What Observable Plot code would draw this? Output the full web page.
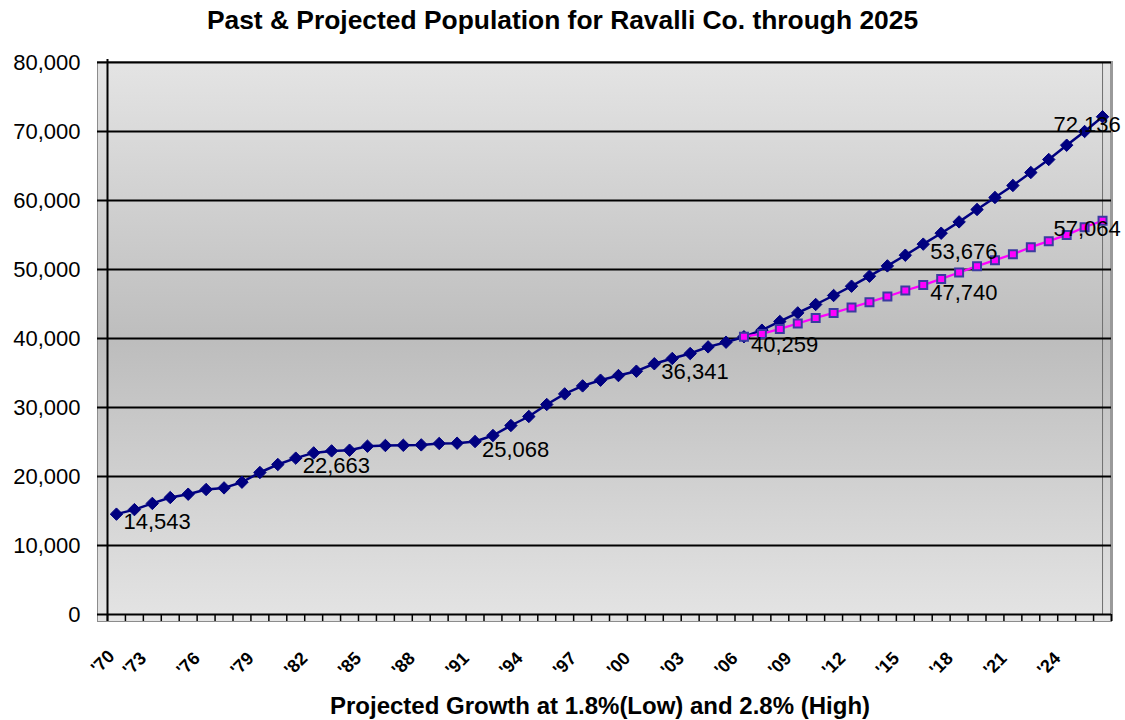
<!DOCTYPE html>
<html>
<head>
<meta charset="utf-8">
<script src="https://cdn.jsdelivr.net/npm/d3@7"></script>
<script src="https://cdn.jsdelivr.net/npm/@observablehq/plot@0.6"></script>
<style>
  html, body { margin: 0; padding: 0; background: #fff; overflow: hidden; }
  #wrap { position: relative; width: 1125px; height: 720px; font-family: "Liberation Sans", Arial, sans-serif; }
  #title { position: absolute; left: 0; top: 5px; width: 1125px; text-align: center; font-weight: bold; font-size: 26.4px; color: #000; }
  #xtitle { position: absolute; left: 0; top: 692px; width: 1125px; padding-left: 75px; box-sizing: border-box; text-align: center; font-weight: bold; font-size: 24px; color: #000; }
  #chart { position: absolute; left: 0; top: 42px; }
</style>
</head>
<body>
<div id="wrap">
  <div id="title">Past &amp; Projected Population for Ravalli Co. through 2025</div>
  <div id="chart"></div>
  <div id="xtitle">Projected Growth at 1.8%(Low) and 2.8% (High)</div>
</div>
<script>
// Categories
const years = d3.range(1970, 2026);
const lowYears = d3.range(2005, 2026);

// High series (2.8%) including past population 1970-2025
const highValues = [
  14543, 15200, 16100, 16950, 17435, 18116, 18348, 19174, 20580, 21739,
  22663, 23420, 23710, 23812, 24391, 24493, 24520, 24580, 24783, 24826,
  25068, 25942, 27391, 28696, 30435, 31971, 33130, 33957, 34630, 35261,
  36341, 37101, 37826, 38783, 39464, 40259, 41203, 42464, 43710, 44928,
  46232, 47580, 49029, 50522, 52072, 53676, 55261, 56899, 58696, 60435,
  62174, 64058, 65942, 68014, 70000, 72136
];

// Low series (1.8%) projection 2005-2025
const lowValues = [
  40259, 40667, 41391, 42174, 42986, 43710, 44493, 45261, 46087, 46957,
  47740, 48638, 49565, 50478, 51348, 52217, 53232, 54101, 55014, 56130,
  57064
];

// Tick labels
const xTickYears = d3.range(1970, 2025, 3);
const xTickLabels = ["'70","'73","'76","'79","'82","'85","'88","'91","'94","'97","'00","'03","'06","'09","'12","'15","'18","'21","'24"];
const yTicks = [0, 10000, 20000, 30000, 40000, 50000, 60000, 70000, 80000];

// Labelled points
const highLabelYears = [1970, 1980, 1990, 2000, 2015];
const lowLabelYears = [2005, 2015];
const endLabelYear = 2025;

const high = years.map((y, i) => ({year: y, value: highValues[i]}));
const low = lowYears.map((y, i) => ({year: y, value: lowValues[i]}));
const bounds = d3.range(1969.5, 2026, 1);
const fmt = d3.format(",");

const labelsMain = [
  ...high.filter(d => highLabelYears.includes(d.year)),
  ...low.filter(d => lowLabelYears.includes(d.year))
];
const labelsEnd = [
  ...high.filter(d => d.year === endLabelYear),
  ...low.filter(d => d.year === endLabelYear)
];
const xTicks = xTickYears.map((y, i) => ({year: y, label: xTickLabels[i]}));
const xTicksFirst = xTicks.slice(0, 1);
const xTicksRest = xTicks.slice(1);

const chart = Plot.plot({
  width: 1125,
  height: 640,
  marginLeft: 107,
  marginRight: 14,
  marginTop: 20,
  marginBottom: 68,
  style: {fontFamily: "'Liberation Sans', Arial, sans-serif", color: "#000", background: "transparent"},
  x: {domain: [1969.5, 2025.5], axis: null},
  y: {domain: [0, 80000]},
  marks: [
    Plot.frame({fill: "url(#bgGrad)", stroke: "#8c8c8c", strokeWidth: 1, insetLeft: -10, insetBottom: -7, insetTop: -1}),
    Plot.ruleX([2025.5], {x: d => d, y1: 80000, y2: 0, stroke: "#9a9a9a", strokeWidth: 3, insetTop: -1, insetBottom: -7}),
    Plot.ruleX([2025], {x: d => d, y1: 80000, y2: 0, stroke: "#707070", strokeWidth: 1}),
    Plot.ruleY(yTicks, {y: d => d, stroke: "#000", strokeWidth: 2, insetLeft: -10}),
    Plot.ruleX(bounds, {x: d => d, y1: 0, y2: 0, insetTop: 7, stroke: "#000", strokeWidth: 1.5}),
    Plot.ruleX([1969.5], {x: d => d, y1: 80000, y2: 0, stroke: "#000", strokeWidth: 2, insetTop: -3, insetBottom: -7}),
    Plot.axisY(yTicks, {tickSize: 10, tickPadding: 17, tickFormat: d => fmt(d), fontSize: 22, label: null, stroke: "#000"}),
    Plot.text(xTicksFirst, {x: "year", frameAnchor: "bottom", text: "label", rotate: -45, textAnchor: "end", dx: -1, dy: 43, fontSize: 18, fontWeight: "bold", fill: "#000"}),
    Plot.text(xTicksRest, {x: "year", frameAnchor: "bottom", text: "label", rotate: -45, textAnchor: "end", dx: -23, dy: 45, fontSize: 18, fontWeight: "bold", fill: "#000"}),
    Plot.line(high, {x: "year", y: "value", stroke: "#000080", strokeWidth: 2.5}),
    Plot.dot(high, {x: "year", y: "value", symbol: "diamond2", r: 5.6, fill: "#000080", stroke: "#000080", strokeWidth: 1}),
    Plot.line(low, {x: "year", y: "value", stroke: "#ff00ff", strokeWidth: 2.3}),
    Plot.dot(low, {x: "year", y: "value", symbol: "square", r: 4.5, fill: "#ff00ff", stroke: "#3a3aa0", strokeWidth: 2}),
    Plot.text(labelsMain, {x: "year", y: "value", text: d => fmt(d.value), textAnchor: "start", dx: 7, dy: 8, fontSize: 22, fill: "#000"}),
    Plot.text(labelsEnd, {x: "year", y: "value", text: d => fmt(d.value), textAnchor: "start", dx: -49, dy: 8, fontSize: 22, fill: "#000"})
  ]
});

chart.insertAdjacentHTML("afterbegin",
  '<defs><linearGradient id="bgGrad" x1="0" y1="0" x2="0" y2="1">' +
  '<stop offset="0" stop-color="#e4e4e4"/>' +
  '<stop offset="0.5" stop-color="#bdbdbd"/>' +
  '<stop offset="1" stop-color="#e4e4e4"/>' +
  '</linearGradient></defs>');
document.getElementById("chart").appendChild(chart);
</script>
</body>
</html>
